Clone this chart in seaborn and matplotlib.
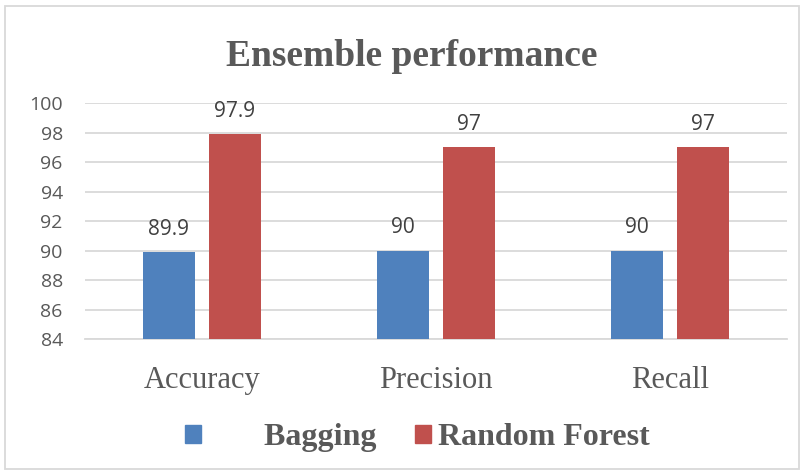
import matplotlib
matplotlib.use("Agg")
import matplotlib.pyplot as plt
import seaborn as sns
import pandas as pd
from matplotlib.patches import Rectangle

metrics = ["Accuracy", "Precision", "Recall"]
bagging = [89.9, 90, 90]
random_forest = [97.9, 97, 97]
models = ["Bagging", "Random Forest"]
y_ticks = [84, 86, 88, 90, 92, 94, 96, 98, 100]

df = pd.DataFrame({
    "metric": metrics * 2,
    "model": [models[0]] * 3 + [models[1]] * 3,
    "value": bagging + random_forest,
})

sns.set_style("white")
text_color = "#595959"
palette = {"Bagging": "#4F81BD", "Random Forest": "#C0504D"}

fig = plt.figure(figsize=(8.04, 4.75), dpi=100)
ax = fig.add_axes([0.1057, 0.286, 0.8731, 0.497])

sns.barplot(data=df, x="metric", y="value", hue="model", palette=palette,
            width=0.564, gap=0.21, saturation=1, linewidth=0, ax=ax,
            legend=False, zorder=3)

ax.set_ylim(84, 100)
ax.set_yticks(y_ticks)
ax.set_yticklabels([str(t) for t in y_ticks], family="Open Sans",
                   fontsize=14, color=text_color)
ax.set_xticks(range(len(metrics)))
ax.set_xticklabels(metrics, family="Liberation Serif", fontsize=22,
                   color=text_color)
ax.tick_params(axis="y", length=0, pad=16)
ax.tick_params(axis="x", length=0, pad=19)
ax.set_xlabel("")
ax.set_ylabel("")
ax.grid(axis="y", color="#D9D9D9", linewidth=1.3, zorder=0)
for side in ["top", "right", "left"]:
    ax.spines[side].set_visible(False)
ax.spines["bottom"].set_color("#D9D9D9")
ax.spines["bottom"].set_linewidth(1.3)

for cont in ax.containers:
    for bar in cont:
        h = bar.get_height()
        ax.annotate(f"{h:g}", (bar.get_x() + bar.get_width() / 2, h),
                    xytext=(0, 9), textcoords="offset points",
                    ha="center", va="bottom", family="Open Sans",
                    fontsize=15, color="#404040")

fig.text(0.512, 0.882, "Ensemble performance", ha="center", va="center",
         family="Liberation Serif", fontweight="bold", fontsize=27,
         color=text_color)

handles = [Rectangle((0, 0), 1, 1, color=palette[m]) for m in models]
labels = ["       " + models[0], models[1]]
leg = fig.legend(handles, labels, loc="center", bbox_to_anchor=(0.519, 0.079),
                 ncol=2, frameon=False, handlelength=0.5, handleheight=0.5,
                 handletextpad=0.22, columnspacing=1.2,
                 prop={"family": "Liberation Serif", "weight": "bold",
                       "size": 23})
for t in leg.get_texts():
    t.set_color(text_color)

fig.patches.append(Rectangle((0.006, 0.012), 0.988, 0.975,
                             transform=fig.transFigure, fill=False,
                             edgecolor="#D9D9D9", linewidth=1.3))

fig.savefig("out.png", dpi=100)
